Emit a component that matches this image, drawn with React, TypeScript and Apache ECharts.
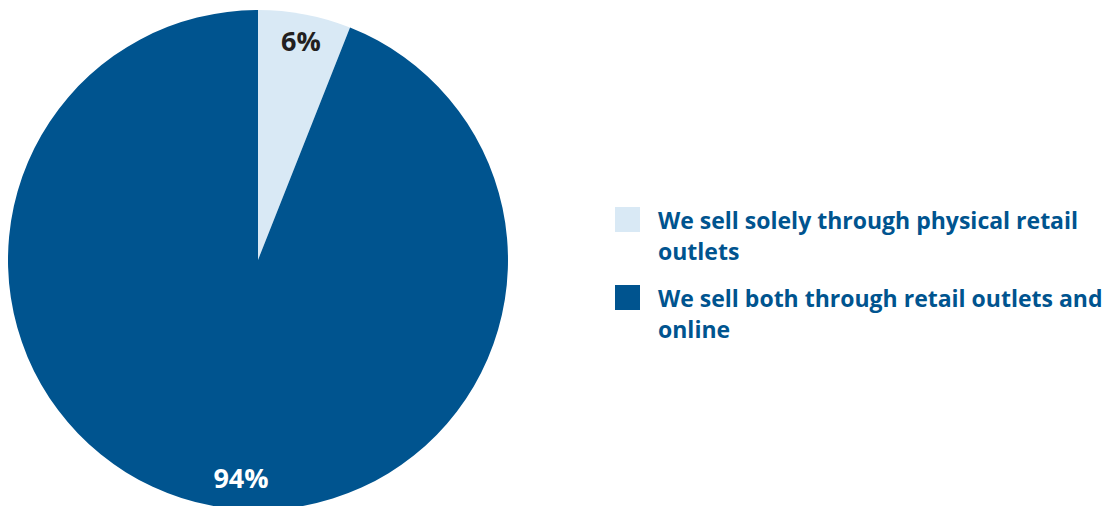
import React, { useEffect, useRef } from "react";
import * as echarts from "echarts";

const categories = [
  "We sell solely through physical retail outlets",
  "We sell both through retail outlets and online",
];
const values = [6, 94];
const sliceColors = ["#d9e9f5", "#00548f"];
const labelColors = ["#231f20", "#ffffff"];
const labelOffsets = [
  [19, -94],
  [7, 92],
];

export default function App() {
  const ref = useRef<HTMLDivElement>(null);
  useEffect(() => {
    document.body.style.margin = "0";
    const chart = echarts.init(ref.current!, undefined, { renderer: "svg" });
    chart.setOption({
      animation: false,
      legend: {
        orient: "vertical",
        left: 615,
        top: 173,
        padding: 0,
        itemWidth: 25,
        itemHeight: 25,
        itemGap: -15,
        icon: "rect",
        selectedMode: false,
        data: categories,
        formatter: (name: string) => "\n" + name,
        textStyle: {
          color: "#00548f",
          fontFamily: "Open Sans",
          fontWeight: "bold",
          fontSize: 23,
          lineHeight: 31,
          width: 455,
          overflow: "break",
          padding: [0, 0, 0, 13],
        },
      },
      series: [
        {
          type: "pie",
          center: [258, 260],
          radius: 250,
          startAngle: 90,
          clockwise: true,
          silent: true,
          label: {
            show: true,
            position: "inside",
            formatter: "{c}%",
            fontFamily: "Open Sans",
            fontWeight: "bold",
            fontSize: 27,
          },
          labelLine: { show: false },
          data: categories.map((name, i) => ({
            name,
            value: values[i],
            itemStyle: { color: sliceColors[i] },
            label: { color: labelColors[i], offset: labelOffsets[i] },
          })),
        },
      ],
    });
    return () => chart.dispose();
  }, []);
  return <div ref={ref} style={{ width: 1115, height: 506 }} />;
}
